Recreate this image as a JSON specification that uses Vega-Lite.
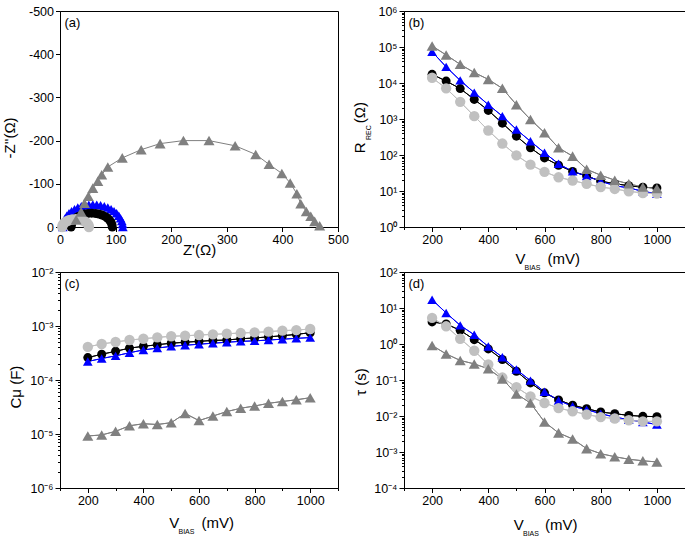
{
  "$schema": "https://vega.github.io/schema/vega-lite/v6.json",
  "padding": {"left": 1, "top": 4, "right": 0, "bottom": 0},
  "background": "white",
  "config": {
    "font": "Liberation Sans",
    "view": {"stroke": "#000000", "strokeWidth": 1},
    "axis": {
      "domainColor": "#000000", "tickColor": "#000000", "labelColor": "#000000", "titleColor": "#000000",
      "labelFont": "Liberation Sans", "titleFont": "Liberation Sans",
      "labelFontSize": 12.5, "titleFontSize": 15, "titleFontWeight": "normal",
      "grid": false, "labelFlush": false, "labelOverlap": false, "labelPadding": 2,
      "tickWidth": 1, "domainWidth": 1
    },
    "title": {"font": "Liberation Sans", "fontSize": 13, "fontWeight": "normal", "color": "#000000"}
  },
  "datasets": {
    "nyq": [
      {"s": "s2", "i": 0, "re": 5, "im": 0}, {"s": "s2", "i": 1, "re": 5.5, "im": -6.8}, {"s": "s2", "i": 2, "re": 6.8, "im": -13.5},
      {"s": "s2", "i": 3, "re": 9.1, "im": -19.9}, {"s": "s2", "i": 4, "re": 12.2, "im": -26}, {"s": "s2", "i": 5, "re": 16.2, "im": -31.7},
      {"s": "s2", "i": 6, "re": 20.8, "im": -36.8}, {"s": "s2", "i": 7, "re": 26.1, "im": -41.2}, {"s": "s2", "i": 8, "re": 32, "im": -45},
      {"s": "s2", "i": 9, "re": 38.3, "im": -48}, {"s": "s2", "i": 10, "re": 45, "im": -50.2}, {"s": "s2", "i": 11, "re": 51.9, "im": -51.5},
      {"s": "s2", "i": 12, "re": 59, "im": -52}, {"s": "s2", "i": 13, "re": 66.1, "im": -51.5}, {"s": "s2", "i": 14, "re": 73, "im": -50.2},
      {"s": "s2", "i": 15, "re": 79.7, "im": -48}, {"s": "s2", "i": 16, "re": 86, "im": -45}, {"s": "s2", "i": 17, "re": 91.9, "im": -41.2},
      {"s": "s2", "i": 18, "re": 97.2, "im": -36.8}, {"s": "s2", "i": 19, "re": 101.8, "im": -31.7}, {"s": "s2", "i": 20, "re": 105.8, "im": -26},
      {"s": "s2", "i": 21, "re": 108.9, "im": -19.9}, {"s": "s2", "i": 22, "re": 111.2, "im": -13.5}, {"s": "s2", "i": 23, "re": 112.5, "im": -6.8},
      {"s": "s2", "i": 24, "re": 113, "im": 0},
      {"s": "s1", "i": 0, "re": 20, "im": 0}, {"s": "s1", "i": 1, "re": 20.6, "im": -5.6}, {"s": "s1", "i": 2, "re": 22.2, "im": -10.9},
      {"s": "s1", "i": 3, "re": 25, "im": -16}, {"s": "s1", "i": 4, "re": 28.7, "im": -20.6}, {"s": "s1", "i": 5, "re": 33.2, "im": -24.5},
      {"s": "s1", "i": 6, "re": 38.5, "im": -27.7}, {"s": "s1", "i": 7, "re": 44.3, "im": -30.1}, {"s": "s1", "i": 8, "re": 50.6, "im": -31.5},
      {"s": "s1", "i": 9, "re": 57, "im": -32}, {"s": "s1", "i": 10, "re": 63.4, "im": -31.5}, {"s": "s1", "i": 11, "re": 69.7, "im": -30.1},
      {"s": "s1", "i": 12, "re": 75.5, "im": -27.7}, {"s": "s1", "i": 13, "re": 80.8, "im": -24.5}, {"s": "s1", "i": 14, "re": 85.3, "im": -20.6},
      {"s": "s1", "i": 15, "re": 89, "im": -16}, {"s": "s1", "i": 16, "re": 91.8, "im": -10.9}, {"s": "s1", "i": 17, "re": 93.4, "im": -5.6},
      {"s": "s1", "i": 18, "re": 94, "im": 0},
      {"s": "s3", "i": 0, "re": 4, "im": 0}, {"s": "s3", "i": 1, "re": 4.8, "im": -4.7}, {"s": "s3", "i": 2, "re": 7.2, "im": -9},
      {"s": "s3", "i": 3, "re": 11, "im": -12.7}, {"s": "s3", "i": 4, "re": 16, "im": -15.6}, {"s": "s3", "i": 5, "re": 21.8, "im": -17.4},
      {"s": "s3", "i": 6, "re": 28, "im": -18}, {"s": "s3", "i": 7, "re": 34.2, "im": -17.4}, {"s": "s3", "i": 8, "re": 40, "im": -15.6},
      {"s": "s3", "i": 9, "re": 45, "im": -12.7}, {"s": "s3", "i": 10, "re": 48.8, "im": -9}, {"s": "s3", "i": 11, "re": 51.2, "im": -4.7},
      {"s": "s3", "i": 12, "re": 52, "im": 0},
      {"s": "s4", "i": 0, "re": 29, "im": -17}, {"s": "s4", "i": 1, "re": 38, "im": -35}, {"s": "s4", "i": 2, "re": 44, "im": -55},
      {"s": "s4", "i": 3, "re": 51, "im": -71}, {"s": "s4", "i": 4, "re": 59, "im": -90}, {"s": "s4", "i": 5, "re": 68, "im": -106},
      {"s": "s4", "i": 6, "re": 75, "im": -121}, {"s": "s4", "i": 7, "re": 86, "im": -139}, {"s": "s4", "i": 8, "re": 112, "im": -160},
      {"s": "s4", "i": 9, "re": 146, "im": -179}, {"s": "s4", "i": 10, "re": 180, "im": -193}, {"s": "s4", "i": 11, "re": 222, "im": -200},
      {"s": "s4", "i": 12, "re": 268, "im": -200}, {"s": "s4", "i": 13, "re": 315, "im": -188}, {"s": "s4", "i": 14, "re": 352, "im": -168},
      {"s": "s4", "i": 15, "re": 376, "im": -145}, {"s": "s4", "i": 16, "re": 399, "im": -124}, {"s": "s4", "i": 17, "re": 414, "im": -102},
      {"s": "s4", "i": 18, "re": 426, "im": -77}, {"s": "s4", "i": 19, "re": 433, "im": -54}, {"s": "s4", "i": 20, "re": 443, "im": -36},
      {"s": "s4", "i": 21, "re": 451, "im": -25}, {"s": "s4", "i": 22, "re": 458, "im": -13}, {"s": "s4", "i": 23, "re": 467, "im": -3}
    ],
    "bias": [
      {"s": "s1", "v": 200, "r": 17400, "c": 0.00026, "t": 4.1},
      {"s": "s1", "v": 250, "r": 11300, "c": 0.0003, "t": 3.6},
      {"s": "s1", "v": 300, "r": 7000, "c": 0.00034, "t": 2.4},
      {"s": "s1", "v": 350, "r": 3500, "c": 0.00039, "t": 1.32},
      {"s": "s1", "v": 400, "r": 1730, "c": 0.00042, "t": 0.73},
      {"s": "s1", "v": 450, "r": 765, "c": 0.00045, "t": 0.37},
      {"s": "s1", "v": 500, "r": 333, "c": 0.00048, "t": 0.175},
      {"s": "s1", "v": 550, "r": 158, "c": 0.0005, "t": 0.083},
      {"s": "s1", "v": 600, "r": 83, "c": 0.00052, "t": 0.044},
      {"s": "s1", "v": 650, "r": 52, "c": 0.00054, "t": 0.028},
      {"s": "s1", "v": 700, "r": 35, "c": 0.00055, "t": 0.02},
      {"s": "s1", "v": 750, "r": 26, "c": 0.00058, "t": 0.016},
      {"s": "s1", "v": 800, "r": 18.7, "c": 0.0006, "t": 0.0129},
      {"s": "s1", "v": 850, "r": 16, "c": 0.00063, "t": 0.0116},
      {"s": "s1", "v": 900, "r": 14, "c": 0.00066, "t": 0.0104},
      {"s": "s1", "v": 950, "r": 12.7, "c": 0.0007, "t": 0.0098},
      {"s": "s1", "v": 1000, "r": 12.2, "c": 0.00075, "t": 0.0096},
      {"s": "s2", "v": 200, "r": 74000, "c": 0.00022, "t": 17},
      {"s": "s2", "v": 250, "r": 28000, "c": 0.00025, "t": 7.3},
      {"s": "s2", "v": 300, "r": 11800, "c": 0.00028, "t": 3.3},
      {"s": "s2", "v": 350, "r": 5400, "c": 0.00032, "t": 1.8},
      {"s": "s2", "v": 400, "r": 2500, "c": 0.00036, "t": 0.85},
      {"s": "s2", "v": 450, "r": 1200, "c": 0.00039, "t": 0.43},
      {"s": "s2", "v": 500, "r": 510, "c": 0.00042, "t": 0.195},
      {"s": "s2", "v": 550, "r": 240, "c": 0.00044, "t": 0.096},
      {"s": "s2", "v": 600, "r": 115, "c": 0.00046, "t": 0.047},
      {"s": "s2", "v": 650, "r": 57, "c": 0.00048, "t": 0.027},
      {"s": "s2", "v": 700, "r": 35, "c": 0.0005, "t": 0.0186},
      {"s": "s2", "v": 750, "r": 26, "c": 0.00052, "t": 0.015},
      {"s": "s2", "v": 800, "r": 18.7, "c": 0.00053, "t": 0.0116},
      {"s": "s2", "v": 850, "r": 14, "c": 0.00055, "t": 0.0093},
      {"s": "s2", "v": 900, "r": 12.2, "c": 0.00057, "t": 0.0079},
      {"s": "s2", "v": 950, "r": 9.8, "c": 0.00059, "t": 0.0068},
      {"s": "s2", "v": 1000, "r": 8.4, "c": 0.00061, "t": 0.0058},
      {"s": "s3", "v": 200, "r": 14000, "c": 0.00041, "t": 5.3},
      {"s": "s3", "v": 250, "r": 7100, "c": 0.000465, "t": 3.1},
      {"s": "s3", "v": 300, "r": 3000, "c": 0.000505, "t": 1.4},
      {"s": "s3", "v": 350, "r": 1200, "c": 0.00055, "t": 0.65},
      {"s": "s3", "v": 400, "r": 480, "c": 0.00058, "t": 0.27},
      {"s": "s3", "v": 450, "r": 208, "c": 0.000615, "t": 0.117},
      {"s": "s3", "v": 500, "r": 98, "c": 0.000645, "t": 0.063},
      {"s": "s3", "v": 550, "r": 54, "c": 0.00066, "t": 0.035},
      {"s": "s3", "v": 600, "r": 34, "c": 0.00068, "t": 0.023},
      {"s": "s3", "v": 650, "r": 24, "c": 0.0007, "t": 0.0166},
      {"s": "s3", "v": 700, "r": 19.5, "c": 0.00072, "t": 0.0135},
      {"s": "s3", "v": 750, "r": 15.8, "c": 0.00074, "t": 0.011},
      {"s": "s3", "v": 800, "r": 12.9, "c": 0.00076, "t": 0.0093},
      {"s": "s3", "v": 850, "r": 11.4, "c": 0.000785, "t": 0.0085},
      {"s": "s3", "v": 900, "r": 9.8, "c": 0.00082, "t": 0.0076},
      {"s": "s3", "v": 950, "r": 8.8, "c": 0.00084, "t": 0.0071},
      {"s": "s3", "v": 1000, "r": 8.5, "c": 0.00088, "t": 0.0071},
      {"s": "s4", "v": 200, "r": 107000, "c": 0.0000092, "t": 0.91},
      {"s": "s4", "v": 250, "r": 60000, "c": 0.0000096, "t": 0.53},
      {"s": "s4", "v": 300, "r": 33000, "c": 0.0000112, "t": 0.35},
      {"s": "s4", "v": 350, "r": 19500, "c": 0.0000142, "t": 0.28},
      {"s": "s4", "v": 400, "r": 12600, "c": 0.0000155, "t": 0.205},
      {"s": "s4", "v": 450, "r": 7100, "c": 0.000015, "t": 0.107},
      {"s": "s4", "v": 500, "r": 2500, "c": 0.0000162, "t": 0.041},
      {"s": "s4", "v": 550, "r": 970, "c": 0.000024, "t": 0.023},
      {"s": "s4", "v": 600, "r": 415, "c": 0.0000177, "t": 0.0068},
      {"s": "s4", "v": 650, "r": 158, "c": 0.0000215, "t": 0.0034},
      {"s": "s4", "v": 700, "r": 93, "c": 0.000026, "t": 0.0023},
      {"s": "s4", "v": 750, "r": 40, "c": 0.00003, "t": 0.00124},
      {"s": "s4", "v": 800, "r": 27.5, "c": 0.000033, "t": 0.0009},
      {"s": "s4", "v": 850, "r": 20, "c": 0.000037, "t": 0.00074},
      {"s": "s4", "v": 900, "r": 15.8, "c": 0.00004, "t": 0.00063},
      {"s": "s4", "v": 950, "r": 12.9, "c": 0.000043, "t": 0.00057},
      {"s": "s4", "v": 1000, "r": 11.8, "c": 0.000047, "t": 0.00053}
    ]
  },
  "columns": 2,
  "spacing": {"row": 45, "column": 66},
  "bounds": "flush",
  "concat": [
    {
      "width": 278, "height": 216,
      "title": {"text": "(a)", "anchor": "start", "frame": "group", "offset": -35, "dx": 4.5, "baseline": "alphabetic"},
      "data": {"name": "nyq"},
      "layer": [
        {
          "mark": {"type": "line", "strokeWidth": 1},
          "encoding": {
            "x": {"field": "re", "type": "quantitative", "scale": {"domain": [0, 500], "nice": false, "zero": false},
              "axis": {"values": [0, 50, 100, 150, 200, 250, 300, 350, 400, 450, 500],
                "labelExpr": "datum.value % 100 == 0 ? '' + datum.value : ''",
                "tickSize": {"condition": {"test": "datum.value % 100 == 0", "value": 4.5}, "value": 2.5},
                "title": "Z'(Ω)", "titleBaseline": "alphabetic", "titleY": 27.5}},
            "y": {"field": "im", "type": "quantitative", "scale": {"domain": [0, -500], "nice": false, "zero": false},
              "axis": {"values": [0, -50, -100, -150, -200, -250, -300, -350, -400, -450, -500],
                "labelExpr": "datum.value % 100 == 0 ? '' + datum.value : ''",
                "tickSize": {"condition": {"test": "datum.value % 100 == 0", "value": 4.5}, "value": 2.5},
                "title": "-Z''(Ω)", "titleAngle": -90, "titleAlign": "left", "titleBaseline": "alphabetic", "titleX": -45.7, "titleY": 147}},
            "color": {"field": "s", "type": "nominal", "scale": {"domain": ["s1", "s2", "s3", "s4"], "range": ["#000000", "#0000ff", "#c0c0c0", "#808080"]}, "legend": null},
            "order": {"field": "i", "type": "quantitative"}
          }
        },
        {
          "mark": {"type": "point", "filled": true, "opacity": 1},
          "encoding": {
            "x": {"field": "re", "type": "quantitative"},
            "y": {"field": "im", "type": "quantitative"},
            "color": {"field": "s", "type": "nominal", "scale": {"domain": ["s1", "s2", "s3", "s4"], "range": ["#000000", "#0000ff", "#c0c0c0", "#808080"]}, "legend": null},
            "shape": {"field": "s", "type": "nominal", "scale": {"domain": ["s1", "s2", "s3", "s4"], "range": ["circle", "triangle-up", "circle", "triangle-up"]}, "legend": null},
            "size": {"field": "s", "type": "nominal", "scale": {"domain": ["s1", "s2", "s3", "s4"], "range": [81, 121, 81, 121]}, "legend": null}
          }
        }
      ]
    },
    {
      "width": 281, "height": 216,
      "title": {"text": "(b)", "anchor": "start", "frame": "group", "offset": -35, "dx": 4.5, "baseline": "alphabetic"},
      "data": {"name": "bias"},
      "resolve": {"axis": {"x": "independent", "y": "independent"}},
      "layer": [
        {
          "mark": {"type": "line", "strokeWidth": 1},
          "encoding": {
            "x": {"field": "v", "type": "quantitative", "scale": {"domain": [100, 1100], "nice": false, "zero": false},
              "axis": {"orient": "bottom", "title": "(mV)", "titleAlign": "left", "titleBaseline": "alphabetic", "titleX": 143, "titleY": 36.3, "labels": false, "ticks": false, "domain": false}},
            "y": {"field": "r", "type": "quantitative", "scale": {"type": "log", "domain": [1, 1000000], "nice": false},
              "axis": {"orient": "left", "title": "(Ω)", "titleAngle": -90, "titleAlign": "left", "titleBaseline": "alphabetic", "titleX": -39.3, "titleY": 111.7, "labels": false, "ticks": false, "domain": false}},
            "color": {"field": "s", "type": "nominal", "scale": {"domain": ["s1", "s2", "s3", "s4"], "range": ["#000000", "#0000ff", "#c0c0c0", "#808080"]}, "legend": null},
            "order": {"field": "v", "type": "quantitative"}
          }
        },
        {
          "mark": {"type": "line", "strokeWidth": 1},
          "encoding": {
            "x": {"field": "v", "type": "quantitative",
              "axis": {"orient": "bottom", "title": "BIAS", "titleFontSize": 7, "titleAlign": "left", "titleBaseline": "alphabetic", "titleX": 120, "titleY": 42.3, "labels": false, "ticks": false, "domain": false}},
            "y": {"field": "r", "type": "quantitative",
              "axis": {"orient": "left", "title": "REC", "titleFontSize": 7, "titleAngle": -90, "titleAlign": "left", "titleBaseline": "alphabetic", "titleX": -34, "titleY": 128.5, "labels": false, "ticks": false, "domain": false}},
            "color": {"field": "s", "type": "nominal", "scale": {"domain": ["s1", "s2", "s3", "s4"], "range": ["#000000", "#0000ff", "#c0c0c0", "#808080"]}, "legend": null},
            "order": {"field": "v", "type": "quantitative"}
          }
        },
        {
          "mark": {"type": "point", "filled": true, "opacity": 1},
          "encoding": {
            "x": {"field": "v", "type": "quantitative",
              "axis": {"orient": "bottom", "values": [100, 200, 300, 400, 500, 600, 700, 800, 900, 1000, 1100],
                "labelExpr": "(datum.value % 200 == 0) ? '' + datum.value : ''",
                "tickSize": {"condition": {"test": "datum.value % 200 == 0", "value": 4.5}, "value": 2.5},
                "title": "V", "titleAlign": "left", "titleBaseline": "alphabetic", "titleX": 111, "titleY": 36.3}},
            "y": {"field": "r", "type": "quantitative",
              "axis": {"orient": "left", "values": [1, 2, 3, 4, 5, 6, 7, 8, 9, 10, 20, 30, 40, 50, 60, 70, 80, 90, 100, 200, 300, 400, 500, 600, 700, 800, 900, 1000, 2000, 3000, 4000, 5000, 6000, 7000, 8000, 9000, 10000, 20000, 30000, 40000, 50000, 60000, 70000, 80000, 90000, 100000, 200000, 300000, 400000, 500000, 600000, 700000, 800000, 900000, 1000000],
                "labelExpr": "(abs(log(datum.value)/LN10 - round(log(datum.value)/LN10)) < 0.01) ? '10' + replace(replace(replace(replace(replace(replace(replace(replace('' + round(log(datum.value)/LN10), '-', '⁻'), '0', '⁰'), '1', '¹'), '2', '²'), '3', '³'), '4', '⁴'), '5', '⁵'), '6', '⁶') : ''",
                "tickSize": {"condition": {"test": "abs(log(datum.value)/LN10 - round(log(datum.value)/LN10)) < 0.01", "value": 5}, "value": 2.5},
                "title": "R", "titleAngle": -90, "titleAlign": "left", "titleBaseline": "alphabetic", "titleX": -39.3, "titleY": 141.7}},
            "color": {"field": "s", "type": "nominal", "scale": {"domain": ["s1", "s2", "s3", "s4"], "range": ["#000000", "#0000ff", "#c0c0c0", "#808080"]}, "legend": null},
            "shape": {"field": "s", "type": "nominal", "scale": {"domain": ["s1", "s2", "s3", "s4"], "range": ["circle", "triangle-up", "circle", "triangle-up"]}, "legend": null},
            "size": {"field": "s", "type": "nominal", "scale": {"domain": ["s1", "s2", "s3", "s4"], "range": [81, 121, 81, 121]}, "legend": null}
          }
        }
      ]
    },
    {
      "width": 278, "height": 216,
      "title": {"text": "(c)", "anchor": "start", "frame": "group", "offset": -35, "dx": 4.5, "baseline": "alphabetic"},
      "data": {"name": "bias"},
      "resolve": {"axis": {"x": "independent"}},
      "layer": [
        {
          "mark": {"type": "line", "strokeWidth": 1},
          "encoding": {
            "x": {"field": "v", "type": "quantitative", "scale": {"domain": [100, 1100], "nice": false, "zero": false},
              "axis": {"orient": "bottom", "title": "(mV)", "titleAlign": "left", "titleBaseline": "alphabetic", "titleX": 141, "titleY": 39.3, "labels": false, "ticks": false, "domain": false}},
            "y": {"field": "c", "type": "quantitative", "scale": {"type": "log", "domain": [0.000001, 0.01], "nice": false},
              "axis": {"orient": "left", "values": [0.000001, 0.000002, 0.000003, 0.000004, 0.000005, 0.000006, 0.000007, 0.000008, 0.000009, 0.00001, 0.00002, 0.00003, 0.00004, 0.00005, 0.00006, 0.00007, 0.00008, 0.00009, 0.0001, 0.0002, 0.0003, 0.0004, 0.0005, 0.0006, 0.0007, 0.0008, 0.0009, 0.001, 0.002, 0.003, 0.004, 0.005, 0.006, 0.007, 0.008, 0.009, 0.01],
                "labelExpr": "(abs(log(datum.value)/LN10 - round(log(datum.value)/LN10)) < 0.01) ? '10' + replace(replace(replace(replace(replace(replace(replace(replace('' + round(log(datum.value)/LN10), '-', '⁻'), '0', '⁰'), '1', '¹'), '2', '²'), '3', '³'), '4', '⁴'), '5', '⁵'), '6', '⁶') : ''",
                "tickSize": {"condition": {"test": "abs(log(datum.value)/LN10 - round(log(datum.value)/LN10)) < 0.01", "value": 5}, "value": 2.5},
                "title": "Cμ (F)", "titleAngle": -90, "titleAlign": "left", "titleBaseline": "alphabetic", "titleX": -40, "titleY": 136}},
            "color": {"field": "s", "type": "nominal", "scale": {"domain": ["s1", "s2", "s3", "s4"], "range": ["#000000", "#0000ff", "#c0c0c0", "#808080"]}, "legend": null},
            "order": {"field": "v", "type": "quantitative"}
          }
        },
        {
          "mark": {"type": "line", "strokeWidth": 1},
          "encoding": {
            "x": {"field": "v", "type": "quantitative",
              "axis": {"orient": "bottom", "title": "BIAS", "titleFontSize": 7, "titleAlign": "left", "titleBaseline": "alphabetic", "titleX": 118, "titleY": 45.5, "labels": false, "ticks": false, "domain": false}},
            "y": {"field": "c", "type": "quantitative"},
            "color": {"field": "s", "type": "nominal", "scale": {"domain": ["s1", "s2", "s3", "s4"], "range": ["#000000", "#0000ff", "#c0c0c0", "#808080"]}, "legend": null},
            "order": {"field": "v", "type": "quantitative"}
          }
        },
        {
          "mark": {"type": "point", "filled": true, "opacity": 1},
          "encoding": {
            "x": {"field": "v", "type": "quantitative",
              "axis": {"orient": "bottom", "values": [100, 200, 300, 400, 500, 600, 700, 800, 900, 1000, 1100],
                "labelExpr": "(datum.value % 200 == 0) ? '' + datum.value : ''",
                "tickSize": {"condition": {"test": "datum.value % 200 == 0", "value": 4.5}, "value": 2.5},
                "title": "V", "titleAlign": "left", "titleBaseline": "alphabetic", "titleX": 108.7, "titleY": 39.3}},
            "y": {"field": "c", "type": "quantitative"},
            "color": {"field": "s", "type": "nominal", "scale": {"domain": ["s1", "s2", "s3", "s4"], "range": ["#000000", "#0000ff", "#c0c0c0", "#808080"]}, "legend": null},
            "shape": {"field": "s", "type": "nominal", "scale": {"domain": ["s1", "s2", "s3", "s4"], "range": ["circle", "triangle-up", "circle", "triangle-up"]}, "legend": null},
            "size": {"field": "s", "type": "nominal", "scale": {"domain": ["s1", "s2", "s3", "s4"], "range": [81, 121, 81, 121]}, "legend": null}
          }
        }
      ]
    },
    {
      "width": 281, "height": 216,
      "title": {"text": "(d)", "anchor": "start", "frame": "group", "offset": -35, "dx": 4.5, "baseline": "alphabetic"},
      "data": {"name": "bias"},
      "resolve": {"axis": {"x": "independent"}},
      "layer": [
        {
          "mark": {"type": "line", "strokeWidth": 1},
          "encoding": {
            "x": {"field": "v", "type": "quantitative", "scale": {"domain": [100, 1100], "nice": false, "zero": false},
              "axis": {"orient": "bottom", "title": "(mV)", "titleAlign": "left", "titleBaseline": "alphabetic", "titleX": 140.5, "titleY": 41, "labels": false, "ticks": false, "domain": false}},
            "y": {"field": "t", "type": "quantitative", "scale": {"type": "log", "domain": [0.0001, 100], "nice": false},
              "axis": {"orient": "left", "values": [0.0001, 0.0002, 0.0003, 0.0004, 0.0005, 0.0006, 0.0007, 0.0008, 0.0009, 0.001, 0.002, 0.003, 0.004, 0.005, 0.006, 0.007, 0.008, 0.009, 0.01, 0.02, 0.03, 0.04, 0.05, 0.06, 0.07, 0.08, 0.09, 0.1, 0.2, 0.3, 0.4, 0.5, 0.6, 0.7, 0.8, 0.9, 1, 2, 3, 4, 5, 6, 7, 8, 9, 10, 20, 30, 40, 50, 60, 70, 80, 90, 100],
                "labelExpr": "(abs(log(datum.value)/LN10 - round(log(datum.value)/LN10)) < 0.01) ? '10' + replace(replace(replace(replace(replace(replace(replace(replace('' + round(log(datum.value)/LN10), '-', '⁻'), '0', '⁰'), '1', '¹'), '2', '²'), '3', '³'), '4', '⁴'), '5', '⁵'), '6', '⁶') : ''",
                "tickSize": {"condition": {"test": "abs(log(datum.value)/LN10 - round(log(datum.value)/LN10)) < 0.01", "value": 5}, "value": 2.5},
                "title": "τ (s)", "titleAngle": -90, "titleAlign": "left", "titleBaseline": "alphabetic", "titleX": -39, "titleY": 123.3}},
            "color": {"field": "s", "type": "nominal", "scale": {"domain": ["s1", "s2", "s3", "s4"], "range": ["#000000", "#0000ff", "#c0c0c0", "#808080"]}, "legend": null},
            "order": {"field": "v", "type": "quantitative"}
          }
        },
        {
          "mark": {"type": "line", "strokeWidth": 1},
          "encoding": {
            "x": {"field": "v", "type": "quantitative",
              "axis": {"orient": "bottom", "title": "BIAS", "titleFontSize": 7, "titleAlign": "left", "titleBaseline": "alphabetic", "titleX": 118.5, "titleY": 47, "labels": false, "ticks": false, "domain": false}},
            "y": {"field": "t", "type": "quantitative"},
            "color": {"field": "s", "type": "nominal", "scale": {"domain": ["s1", "s2", "s3", "s4"], "range": ["#000000", "#0000ff", "#c0c0c0", "#808080"]}, "legend": null},
            "order": {"field": "v", "type": "quantitative"}
          }
        },
        {
          "mark": {"type": "point", "filled": true, "opacity": 1},
          "encoding": {
            "x": {"field": "v", "type": "quantitative",
              "axis": {"orient": "bottom", "values": [100, 200, 300, 400, 500, 600, 700, 800, 900, 1000, 1100],
                "labelExpr": "(datum.value % 200 == 0) ? '' + datum.value : ''",
                "tickSize": {"condition": {"test": "datum.value % 200 == 0", "value": 4.5}, "value": 2.5},
                "title": "V", "titleAlign": "left", "titleBaseline": "alphabetic", "titleX": 109.2, "titleY": 41}},
            "y": {"field": "t", "type": "quantitative"},
            "color": {"field": "s", "type": "nominal", "scale": {"domain": ["s1", "s2", "s3", "s4"], "range": ["#000000", "#0000ff", "#c0c0c0", "#808080"]}, "legend": null},
            "shape": {"field": "s", "type": "nominal", "scale": {"domain": ["s1", "s2", "s3", "s4"], "range": ["circle", "triangle-up", "circle", "triangle-up"]}, "legend": null},
            "size": {"field": "s", "type": "nominal", "scale": {"domain": ["s1", "s2", "s3", "s4"], "range": [81, 121, 81, 121]}, "legend": null}
          }
        }
      ]
    }
  ]
}
